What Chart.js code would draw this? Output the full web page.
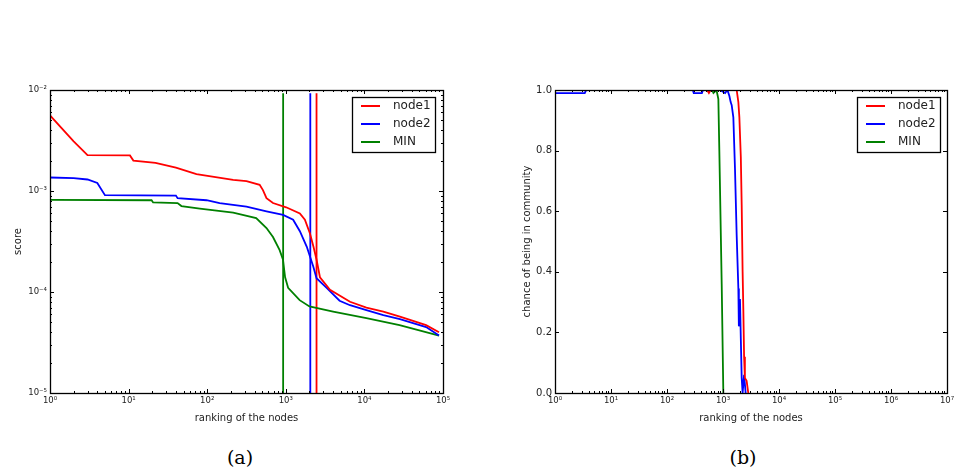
<!DOCTYPE html>
<html>
<head>
<meta charset="utf-8">
<script src="https://cdn.jsdelivr.net/npm/chart.js@4/dist/chart.umd.min.js"></script>
<style>
  html, body { margin: 0; padding: 0; background: #fff; }
  #wrap { position: relative; width: 969px; height: 468px; overflow: hidden; }
  #chartA { position: absolute; left: 0; top: 0; }
  #chartB { position: absolute; left: 485px; top: 0; }
  .cap { position: absolute; top: 445px; width: 60px; text-align: center;
         font-family: 'DejaVu Serif', serif; font-size: 19px; line-height: 24px; color: #000; }
</style>
</head>
<body>
<div id="wrap">
  <canvas id="chartA" width="485" height="440"></canvas>
  <canvas id="chartB" width="484" height="440"></canvas>
  <div class="cap" style="left:210px">(a)</div>
  <div class="cap" style="left:713px">(b)</div>
</div>
<script>
// shared series
var seriesNames = ['node1', 'node2', 'MIN'];
var seriesColors = ['#ff0000', '#0000ff', '#008000'];

// (a) score vs ranking, log-log
var node1Rank = [1, 2, 3, 10.4, 11.5, 22, 40, 73, 214, 316, 465, 512, 568, 687, 1010, 1510, 1750, 2030, 2250, 2460, 2720, 3650, 6560, 10600, 17400, 28300, 61000, 89000];
var node1Score = [5.6e-3, 3.1e-3, 2.27e-3, 2.25e-3, 2.0e-3, 1.9e-3, 1.7e-3, 1.47e-3, 1.29e-3, 1.25e-3, 1.15e-3, 1.02e-3, 8.5e-4, 7.6e-4, 6.9e-4, 6.0e-4, 5.2e-4, 3.8e-4, 2.8e-4, 2.1e-4, 1.4e-4, 1.05e-4, 8.0e-5, 7.0e-5, 6.4e-5, 5.7e-5, 4.7e-5, 4.0e-5];
var node2Rank = [1, 2, 3, 4, 5, 40, 42, 98, 144, 316, 568, 924, 1240, 1510, 1850, 2240, 2460, 3310, 4830, 6560, 10600, 17400, 28300, 61000, 89000];
var node2Score = [1.36e-3, 1.34e-3, 1.3e-3, 1.2e-3, 9.1e-4, 9.0e-4, 8.5e-4, 8.1e-4, 7.6e-4, 7.0e-4, 6.3e-4, 5.8e-4, 5.2e-4, 4.0e-4, 2.8e-4, 1.78e-4, 1.37e-4, 1.1e-4, 8.2e-5, 7.4e-5, 6.6e-5, 5.9e-5, 5.4e-5, 4.5e-5, 3.7e-5];
var minRank = [1, 19.6, 20.5, 42, 47, 80.6, 214, 420, 568, 687, 835, 920, 980, 1070, 1500, 2000, 4000, 10600, 28000, 89000];
var minScore = [8.15e-4, 8.1e-4, 7.7e-4, 7.6e-4, 7.1e-4, 6.7e-4, 6.1e-4, 5.4e-4, 4.3e-4, 3.5e-4, 2.6e-4, 2.1e-4, 1.4e-4, 1.1e-4, 8.3e-5, 7.2e-5, 6.4e-5, 5.5e-5, 4.7e-5, 3.7e-5];
var cutoffRank = [2460, 2050, 925];      // vertical lines, same order as seriesNames
var cutoffSpan = [1e-5, 9.3e-3];

var scoreTicks = [1e-5, 1e-4, 1e-3, 1e-2];
var scoreTickLabels = ['10\u207B\u2075', '10\u207B\u2074', '10\u207B\u00B3', '10\u207B\u00B2'];
var rankTicksA = [1, 10, 100, 1000, 10000, 100000];
var rankTickLabelsA = ['10\u2070', '10\u00B9', '10\u00B2', '10\u00B3', '10\u2074', '10\u2075'];

// (b) chance of being in community vs ranking
var node1RankB = [1, 520, 560, 600, 1755, 1880, 1960, 2080, 2157, 2240, 2310, 2380, 2460, 2640, 2830];
var node1Chance = [1, 1, 0.99, 1, 1, 0.96, 0.91, 0.78, 0.62, 0.4, 0.27, 0.12, 0.05, 0.04, 0];
var node2RankB = [1, 3.4, 3.6, 290, 300, 420, 440, 884, 1090, 1200, 1300, 1370, 1430, 1530, 1637, 1755, 1880, 1920, 2010, 2080, 2157, 2240, 2380, 2540];
var node2Chance = [0.99, 0.99, 1, 1, 0.99, 0.99, 1, 1, 0.99, 1, 0.98, 0.96, 0.95, 0.91, 0.74, 0.52, 0.345, 0.22, 0.31, 0.18, 0.05, 0, 0.06, 0];
var minRankB = [1, 640, 675, 766, 826, 860, 948, 1014];
var minChance = [1, 1, 0.99, 1, 0.97, 0.8, 0.36, 0];

var chanceTicks = [0, 0.2, 0.4, 0.6, 0.8, 1.0];
var chanceTickLabels = ['0.0', '0.2', '0.4', '0.6', '0.8', '1.0'];
var rankTicksB = [1, 10, 100, 1e3, 1e4, 1e5, 1e6, 1e7];
var rankTickLabelsB = ['10\u2070', '10\u00B9', '10\u00B2', '10\u00B3', '10\u2074', '10\u2075', '10\u2076', '10\u2077'];

Chart.defaults.font.family = "'DejaVu Sans', sans-serif";
Chart.defaults.color = '#000';

function pts(xs, ys) {
    return xs.map(function(x, i) { return { x: x, y: ys[i] }; });
}

function line(label, color, data) {
    return { label: label, data: data, borderColor: color, backgroundColor: color,
             borderWidth: 1.8, pointRadius: 0, tension: 0, fill: false };
}

function xAxis(type, min, max, ticks, labels, title, height) {
    return {
        type: type, min: min, max: max,
        grid: { display: false, drawTicks: false }, border: { display: false },
        ticks: { padding: 3, maxRotation: 0, autoSkip: false, font: { size: 8.5 }, color: '#222',
                 callback: function(v, i) { return labels[i]; } },
        afterBuildTicks: function(s) { s.ticks = ticks.map(function(v) { return { value: v }; }); },
        title: { display: true, text: title, font: { size: 10 }, color: '#222', padding: { top: 0, bottom: 16 } },
        afterFit: function(s) { s.height = height; }
    };
}

function yAxis(type, min, max, ticks, labels, title, width, titlePad, size) {
    return {
        type: type, min: min, max: max,
        grid: { display: false, drawTicks: false }, border: { display: false },
        ticks: { padding: 3, autoSkip: false, font: { size: size }, color: '#222',
                 callback: function(v, i) { return labels[i]; } },
        afterBuildTicks: function(s) { s.ticks = ticks.map(function(v) { return { value: v }; }); },
        title: { display: true, text: title, font: { size: 10 }, color: '#222', padding: { top: titlePad, bottom: 0 } },
        afterFit: function(s) { s.width = width; }
    };
}

// black frame with inward major/minor ticks on all four sides
var frameAndTicks = {
    id: 'frameAndTicks',
    afterDatasetsDraw: function(chart) {
        var ctx = chart.ctx, a = chart.chartArea;
        var xs = chart.scales.x, ys = chart.scales.y;
        function minors(scale) {
            if (scale.type !== 'logarithmic') return [];
            var out = [];
            scale.ticks.forEach(function(t, i) {
                if (i === scale.ticks.length - 1) return;
                for (var m = 2; m < 10; m++) out.push(t.value * m);
            });
            return out;
        }
        ctx.save();
        ctx.strokeStyle = '#000';
        ctx.lineWidth = 1;
        ctx.beginPath();
        function xTick(v, len) {
            var px = Math.round(xs.getPixelForValue(v)) + 0.5;
            ctx.moveTo(px, a.bottom); ctx.lineTo(px, a.bottom - len);
            ctx.moveTo(px, a.top); ctx.lineTo(px, a.top + len);
        }
        function yTick(v, len) {
            var py = Math.round(ys.getPixelForValue(v)) + 0.5;
            ctx.moveTo(a.left, py); ctx.lineTo(a.left + len, py);
            ctx.moveTo(a.right, py); ctx.lineTo(a.right - len, py);
        }
        xs.ticks.forEach(function(t) { xTick(t.value, 4); });
        minors(xs).forEach(function(v) { xTick(v, 2); });
        ys.ticks.forEach(function(t) { yTick(t.value, 4); });
        minors(ys).forEach(function(v) { yTick(v, 2); });
        ctx.stroke();
        ctx.lineWidth = 1.3;
        ctx.strokeRect(Math.round(a.left) + 0.5, Math.round(a.top) + 0.5,
                       Math.round(a.right - a.left), Math.round(a.bottom - a.top));
        ctx.restore();
    }
};

// boxed legend in the upper right corner
var boxLegend = {
    id: 'boxLegend',
    afterDraw: function(chart, args, opts) {
        var ctx = chart.ctx, a = chart.chartArea;
        var items = chart.data.datasets.filter(function(d) { return d.label; });
        var w = 83, h = 55;
        var left = a.right - opts.right - w, top = a.top + 7;
        ctx.save();
        ctx.fillStyle = '#fff';
        ctx.fillRect(left, top, w, h);
        ctx.strokeStyle = '#000';
        ctx.lineWidth = 1.3;
        ctx.strokeRect(Math.round(left) + 0.5, Math.round(top) + 0.5, w, h);
        ctx.font = "12px 'DejaVu Sans', sans-serif";
        ctx.textBaseline = 'middle';
        items.forEach(function(d, i) {
            var y = top + 9 + i * 18;
            ctx.strokeStyle = d.borderColor;
            ctx.lineWidth = 2;
            ctx.beginPath();
            ctx.moveTo(left + 9, y); ctx.lineTo(left + 28, y);
            ctx.stroke();
            ctx.fillStyle = '#222';
            ctx.fillText(d.label, left + 41, y);
        });
        ctx.restore();
    }
};

// Chart (a)
var datasetsA = [
    line(seriesNames[0], seriesColors[0], pts(node1Rank, node1Score)),
    line(seriesNames[1], seriesColors[1], pts(node2Rank, node2Score)),
    line(seriesNames[2], seriesColors[2], pts(minRank, minScore))
];
cutoffRank.forEach(function(r, i) {
    datasetsA.push(line('', seriesColors[i], pts([r, r], cutoffSpan)));
});

new Chart(document.getElementById('chartA'), {
    type: 'line',
    data: { datasets: datasetsA },
    options: {
        responsive: false,
        animation: false,
        layout: { padding: { top: 90, right: 42, left: 0, bottom: 0 } },
        plugins: { legend: { display: false }, tooltip: { enabled: false }, boxLegend: { right: 8 } },
        scales: {
            x: xAxis('logarithmic', 1, 1e5, rankTicksA, rankTickLabelsA, 'ranking of the nodes', 47),
            y: yAxis('logarithmic', 1e-5, 1e-2, scoreTicks, scoreTickLabels, 'score', 50, 12, 8.5)
        }
    },
    plugins: [frameAndTicks, boxLegend]
});

// Chart (b)
new Chart(document.getElementById('chartB'), {
    type: 'line',
    data: {
        datasets: [
            line(seriesNames[0], seriesColors[0], pts(node1RankB, node1Chance)),
            line(seriesNames[1], seriesColors[1], pts(node2RankB, node2Chance)),
            line(seriesNames[2], seriesColors[2], pts(minRankB, minChance))
        ]
    },
    options: {
        responsive: false,
        animation: false,
        layout: { padding: { top: 90, right: 22, left: 0, bottom: 0 } },
        plugins: { legend: { display: false }, tooltip: { enabled: false }, boxLegend: { right: 7 } },
        scales: {
            x: xAxis('logarithmic', 1, 1e7, rankTicksB, rankTickLabelsB, 'ranking of the nodes', 47),
            y: yAxis('linear', 0, 1, chanceTicks, chanceTickLabels, 'chance of being in community', 70, 36, 10)
        }
    },
    plugins: [frameAndTicks, boxLegend]
});
</script>
</body>
</html>
